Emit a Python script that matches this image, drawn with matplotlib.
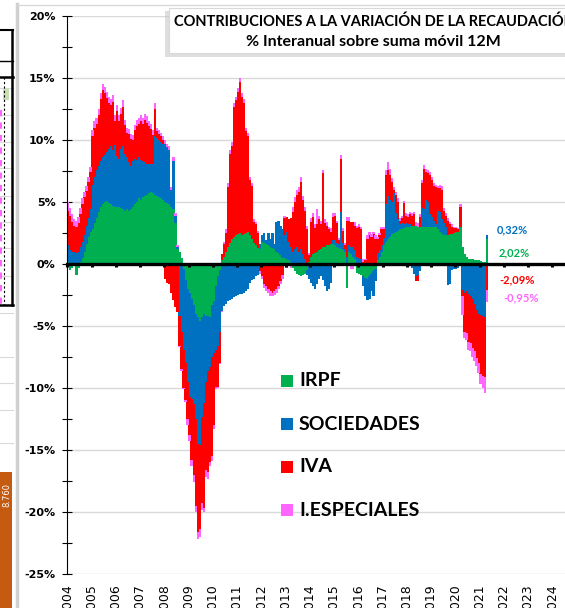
import matplotlib
matplotlib.use('Agg')
import matplotlib.pyplot as plt
import matplotlib.transforms as mtransforms
from matplotlib.patches import Rectangle
from matplotlib.lines import Line2D
import numpy as np

# contributions to the yoy change (pp), monthly Jan 2004 - Apr 2021
irpf = [
    0.2, -0.5, -0.3, -0.2, -0.9, -0.3, 0.2, 0.5, 1.0, 1.6, 2.2, 2.6,        # 2004
    2.8, 3.3, 3.7, 4.2, 4.6, 4.8, 5.0, 5.1, 4.9, 4.8, 4.7, 4.6,             # 2005
    4.6, 4.6, 4.5, 4.4, 4.3, 4.4, 4.3, 4.4, 4.6, 4.8, 5.0, 5.3,             # 2006
    5.2, 5.4, 5.5, 5.6, 5.7, 5.8, 5.7, 5.6, 5.5, 5.4, 5.3, 5.2,             # 2007
    5.0, 4.9, 4.8, 4.6, 4.4, 3.3, 1.2, 1.0, 0.5, -0.4, -1.3, -2.0,          # 2008
    -2.3, -2.8, -3.3, -4.0, -4.3, -4.6, -4.3, -4.0, -4.2, -4.2, -4.3, -3.3, # 2009
    -3.0, -1.8, -1.0, -0.5, 0.3, 0.6, 1.0, 1.4, 1.7, 2.0, 2.2, 2.3,         # 2010
    2.4, 2.5, 2.3, 2.4, 2.5, 2.6, 2.3, 2.0, 1.7, 1.5, 1.3, 1.2,             # 2011
    1.8, 1.7, 1.6, 1.5, 1.4, 1.3, 1.2, 1.0, 0.9, 0.7, 0.5, 0.5,             # 2012
    0.4, 0.3, 0.2, -0.3, -0.6, -0.8, -0.9, -1.0, -0.9, -0.8, -0.5, 0.2,     # 2013
    0.6, 0.8, 0.9, 1.0, 1.1, 1.2, 1.4, 1.4, 1.5, 1.5, 1.6, 1.6,             # 2014
    1.5, 1.4, 1.3, 1.2, 1.1, 1.0, -1.9, 1.0, 0.8, 0.6, 0.4, -0.7,           # 2015
    -0.8, -0.9, -1.0, -1.1, -1.2, -1.0, -0.8, -0.6, -0.4, 0.3, 0.6, 1.0,    # 2016
    1.5, 1.8, 2.0, 2.2, 2.4, 2.5, 2.6, 2.7, 2.8, 2.8, 2.9, 3.0,             # 2017
    3.0, 3.0, 3.1, 3.1, 3.1, 3.0, 3.0, 3.0, 3.0, 3.0, 3.0, 3.0,             # 2018
    3.0, 3.0, 3.0, 2.8, 2.6, 2.4, 2.3, 2.3, 2.3, 2.4, 2.4, 2.5,             # 2019
    2.6, 2.6, 3.0, 1.4, 0.8, 0.6, 0.4, 0.4, 0.4, 0.35, 0.3, 0.3,            # 2020
    0.25, 0.2, 0.2, 2.02,                                                   # 2021
]
sociedades = [
    1.3, 1.1, 1.0, 1.0, 0.9, 1.0, 1.2, 1.3, 1.3, 1.5, 1.5, 1.8,
    3.6, 3.7, 3.9, 3.7, 3.7, 3.8, 3.8, 3.9, 4.4, 4.7, 4.5, 5.0,
    4.1, 3.9, 4.8, 5.1, 4.6, 4.2, 3.9, 3.5, 3.7, 3.7, 3.4, 3.3,
    3.2, 2.9, 2.7, 2.5, 2.4, 2.3, 2.4, 4.7, 4.7, 4.6, 4.5, 4.5,
    4.7, 4.5, 4.4, 1.4, 3.9, 0.6, 0.2, -4.2, -5.5, -6.5, -6.7, -7.5,
    -8.4, -8.1, -8.0, -8.5, -10.2, -10.0, -8.0, -7.2, -5.3, -4.4, -4.0, -4.2,
    -4.2, -5.1, -5.6, -5.0, -3.8, -3.4, -3.2, -3.0, -2.9, -2.8, -2.7, -2.6,
    -2.5, -2.4, -2.4, -2.3, -2.2, -2.0, -1.5, -1.3, -1.2, -1.0, -0.9, 0.4,
    0.5, 0.8, 0.3, 1.0, 0.6, 1.2, 0.4, 2.4, 2.6, 2.4, 2.3, 1.8,
    2.2, 1.5, 1.2, 1.0, 1.2, 1.4, 1.0, 1.2, 0.8, 0.4, -0.4, -1.2,
    -1.5, -1.8, -2.0, -1.6, -1.2, -1.0, -1.3, -1.8, -2.2, -2.0, -1.5, 0.3,
    0.4, 0.3, 0.3, 3.0, 0.6, 0.2, 0.6, 0.5, 0.6, 0.8, 0.7, 0.6,
    0.5, 0.4, -0.8, -1.5, -1.7, -1.8, -1.4, -2.0, -1.0, 0.6, 0.5, 0.5,
    0.6, 3.0, 3.5, 3.0, 2.6, 3.2, 1.5, 0.9, 0.4, 0.5, 0.3, 0.3,
    0.2, 0.2, -0.3, -0.8, -1.0, -0.9, -0.6, 1.5, 1.4, 2.2, 2.0, 1.0,
    0.8, 0.5, 0.2, 1.5, 1.6, 1.2, 1.0, 0.7, -1.7, -1.6, -0.5, -0.4,
    -0.4, -0.3, 0.0, -2.1, -2.3, -2.2, -2.4, -2.6, -2.8, -3.2, -3.7, -4.0,
    -4.1, -4.2, -4.3, 0.32,
]
iva = [
    2.8, 2.8, 2.4, 2.1, 2.1, 2.3, 2.6, 3.0, 3.1, 2.8, 2.9, 3.0,
    3.9, 4.0, 3.7, 4.1, 5.0, 5.4, 5.0, 4.4, 3.7, 3.3, 3.9, 1.9,
    3.6, 3.0, 2.8, 3.2, 2.3, 2.0, 2.3, 2.2, 1.7, 2.3, 2.7, 2.7,
    3.1, 3.0, 3.4, 3.3, 3.0, 2.8, 2.3, 2.2, 0.5, 0.5, 0.5, 0.3,
    -1.2, -1.5, -1.6, -2.3, -2.9, -3.5, -3.9, -2.4, -3.0, -3.1, -3.0, -3.0,
    -3.1, -4.9, -5.7, -7.0, -7.1, -6.8, -7.0, -8.5, -7.1, -8.2, -7.7, -8.0,
    -5.8, -3.0, -3.3, -2.5, 0.5, 1.0, 1.5, 4.8, 7.2, 7.5, 10.5, 10.9,
    11.5, 12.2, 11.2, 10.6, 8.2, 7.7, 4.5, 4.3, 1.7, 1.7, 1.2, -0.6,
    -1.0, -1.6, -1.8, -2.0, -2.2, -2.3, -2.2, -2.0, -1.8, -1.4, -0.9, 1.4,
    1.2, 1.8, 2.3, 3.2, 3.8, 4.2, 4.8, 5.4, 4.4, 3.9, 2.8, 0.5,
    2.8, 3.0, 2.0, 2.2, 2.5, 2.0, 5.9, 1.9, 1.6, 1.3, 1.0, 1.9,
    2.0, 1.6, 0.3, 4.3, 1.0, 0.3, 2.9, 2.0, 2.0, 2.0, 2.0, 2.3,
    2.5, 2.4, 0.2, 0.3, 2.0, 2.3, 2.2, 2.4, 2.0, 1.1, 1.2, 1.3,
    0.7, 2.4, 2.1, 2.0, 1.6, 0.3, 1.5, 1.4, 0.3, 0.4, 1.7, 0.6,
    0.6, 0.8, 0.8, 0.9, -0.4, -0.5, 0.8, 2.0, 3.3, 2.2, 2.3, 3.2,
    3.0, 2.8, 3.0, 1.8, 1.9, 2.4, 1.0, 0.9, 1.2, 0.8, 0.6, 0.4,
    0.3, 0.2, 1.6, -0.5, -3.2, -3.4, -3.9, -3.8, -4.0, -3.8, -3.9, -4.0,
    -4.8, -4.8, -4.8, -2.09,
]
iespeciales = [
    0.7, 0.6, 0.6, 0.5, 0.5, 0.5, 0.5, 0.5, 0.4, 0.4, 0.4, 0.4,
    0.5, 0.5, 0.5, 0.5, 0.5, 0.5, 0.5, 0.5, 0.5, 0.5, 0.5, 0.5,
    0.5, 0.5, 0.5, 0.5, 0.4, 0.4, 0.4, 0.4, 0.4, 0.4, 0.5, 0.5,
    0.5, 0.5, 0.5, 0.5, 0.4, 0.4, 0.4, 0.5, 0.3, 0.3, 0.3, 0.3,
    0.3, 0.3, 0.3, 0.2, 0.3, 0.2, 0.1, -0.1, -0.1, -0.1, -0.1, -0.5,
    -0.5, -0.5, -0.6, -0.5, -0.6, -0.6, -0.5, -0.3, -0.6, -0.5, -0.3, -0.4,
    -0.3, -0.2, -0.1, -0.1, -0.1, 0.2, 0.3, 0.3, 0.3, 0.3, 0.3, 0.3,
    0.3, 0.3, 0.3, 0.3, 0.3, 0.3, 0.2, 0.2, 0.2, 0.2, 0.2, -0.2,
    -0.2, -0.3, -0.4, -0.3, -0.4, -0.3, -0.3, -0.3, -0.2, -0.2, -0.3, 0.2,
    -0.3, -0.2, -0.3, 0.4, 0.4, 0.4, 0.4, 0.4, 0.3, 0.3, 0.3, 0.2,
    0.3, 0.3, 0.3, 1.2, 0.3, 0.3, 0.3, 0.3, 0.3, 0.2, 0.3, 0.3,
    0.2, 0.2, 0.2, 0.3, 0.2, 0.2, 0.3, 0.3, -0.4, -0.4, 0.3, 0.2,
    0.2, 0.2, 0.2, 0.1, 0.3, 0.3, 0.2, 0.2, 0.3, 0.2, 0.2, 0.2,
    0.2, 0.4, 0.6, 0.5, 0.3, 0.2, 0.2, 0.3, 0.2, 0.2, 0.2, 0.2,
    0.2, 0.2, 0.2, 0.2, 0.3, 0.3, 0.2, 0.3, 0.3, 0.3, 0.3, 0.2,
    0.2, 0.2, 0.2, 0.2, 0.3, 0.3, 0.2, 0.2, 0.2, 0.2, 0.2, 0.1,
    0.1, 0.1, 0.2, -1.5, -0.5, -0.5, -0.6, -0.6, -0.7, -0.8, -0.6, -0.8,
    -0.8, -1.0, -1.3, -0.95,
]

names = ['IRPF', 'SOCIEDADES', 'IVA', 'I.ESPECIALES']
colors = ['#00B050', '#0070C0', '#FF0000', '#FF66FF']
years = list(range(2004, 2025))
last_labels = ['0,32%', '2,02%', '-2,09%', '-0,95%']

W, H = 565, 608
fig = plt.figure(figsize=(W / 100, H / 100), dpi=100)
fig.patch.set_facecolor('white')


def fx(px):
    return px / W


def fy(py):
    return 1 - py / H


def px_rect(x0, y0, x1, y1, **kw):
    r = Rectangle((fx(x0), fy(y1)), (x1 - x0) / W, (y1 - y0) / H,
                  transform=fig.transFigure, **kw)
    fig.add_artist(r)
    return r


def px_line(xs, ys, **kw):
    fig.add_artist(Line2D([fx(v) for v in xs], [fy(v) for v in ys],
                          transform=fig.transFigure, **kw))


# bits of the neighbouring spreadsheet at the left edge
for yy in [88, 115, 142, 168, 196, 222, 248, 276, 313, 357, 383, 410, 443]:
    px_line([0, 13], [yy, yy], color='#d9d9d9', lw=0.8)
for yy, lw in [(30, 1.5), (61, 1.0), (77, 1.8), (305, 1.8)]:
    px_line([0, 13], [yy, yy], color='black', lw=lw)
px_line([12, 12], [30, 305], color='black', lw=1.8)
px_line([3.5, 3.5], [77, 305], color='black', lw=0.8, ls=(0, (2, 2)))
px_line([1, 1], [110, 305], color='#FF66FF', lw=1.5, ls=(0, (3, 3)))
px_rect(3, 88, 9, 100, facecolor='#c6e0b4', edgecolor='none')
px_rect(0, 472, 12, 609, facecolor='#C55A11', edgecolor='none')
fig.text(fx(7), fy(495), '8.760', color='white', rotation=90, fontsize=6,
         ha='center', va='center')
px_line([16.5, 16.5], [4, 608], color='#d0d0d0', lw=2.5)
px_line([17, 565], [5, 5], color='#d9d9d9', lw=1)

# chart
ax = fig.add_axes([fx(67.3), fy(574), (576.6 - 67.3) / W, (574 - 16) / H])
ax.set_facecolor('none')
n = len(irpf)
x = 2004 + (np.arange(n) + 0.5) / 12
pos = np.zeros(n)
neg = np.zeros(n)
for vals, c in zip([irpf, sociedades, iva, iespeciales], colors):
    v = np.array(vals, dtype=float)
    bottom = np.where(v >= 0, pos, neg)
    ax.bar(x, v, width=1 / 12 * 1.1, bottom=bottom, color=c, linewidth=0,
           zorder=2)
    pos += np.where(v >= 0, v, 0)
    neg += np.where(v < 0, v, 0)

ax.set_xlim(2004, 2025)
ax.set_ylim(-25, 20)
ax.set_yticks(np.arange(-25, 21, 5))
ax.set_yticks(np.arange(-22.5, 20, 5), minor=True)
ax.set_yticklabels([f'{v}%' for v in range(-25, 21, 5)], fontweight='bold',
                   fontsize=8)
ax.tick_params(axis='y', which='both', direction='inout', length=7, width=0.8,
               pad=5)
ax.yaxis.grid(True, color='#D9D9D9', linewidth=1)
ax.set_axisbelow(True)
for s in ['top', 'right']:
    ax.spines[s].set_visible(False)
ax.spines['left'].set_linewidth(0.8)
ax.spines['bottom'].set_position(('data', 0))
ax.spines['bottom'].set_linewidth(2.4)
ax.spines['bottom'].set_zorder(3)
ax.set_xticks(years + [2025])
ax.tick_params(axis='x', direction='out', length=2.5, width=2.2,
               labelbottom=False)
ax.xaxis.set_zorder(3.5)

# year labels sit at the bottom edge, cut by the crop as in the screenshot
trans = mtransforms.blended_transform_factory(ax.transData, fig.transFigure)
for yr in years:
    ax.text(yr, fy(584), str(yr), rotation=90, ha='center', va='top',
            fontsize=9, transform=trans, clip_on=False)

# values of the last month
for lab, c, yy, xx in zip(last_labels, ['#0070C0', '#00B050', '#FF0000', '#FF66FF'],
                          [230, 253, 280, 298], [497, 499, 499, 503]):
    fig.text(fx(xx), fy(yy), lab, color=c, fontsize=8, fontweight='bold',
             family='Lato', ha='left', va='center')

# legend
for name, c, yy in zip(names, colors, [381, 424, 467, 510]):
    px_rect(281, yy - 6, 293, yy + 6, facecolor=c, edgecolor='none')
    fig.text(fx(299), fy(yy), name, fontsize=14, fontweight='bold',
             family='Lato', ha='left', va='center')

# title box
px_rect(165, 11, 580, 57, facecolor='#c8c8c8', edgecolor='none', alpha=0.6)
px_rect(169, 8, 580, 53, facecolor='white', edgecolor='#d9d9d9', lw=0.8)
fig.text(fx(374), fy(22), 'CONTRIBUCIONES A LA VARIACIÓN DE LA RECAUDACIÓN',
         fontsize=10.5, fontweight='bold', family='Lato', ha='center', va='center')
fig.text(fx(373), fy(42), '% Interanual sobre suma móvil 12M',
         fontsize=11.5, fontweight='bold', family='Lato', ha='center', va='center')

fig.savefig('out.png', dpi=100)
